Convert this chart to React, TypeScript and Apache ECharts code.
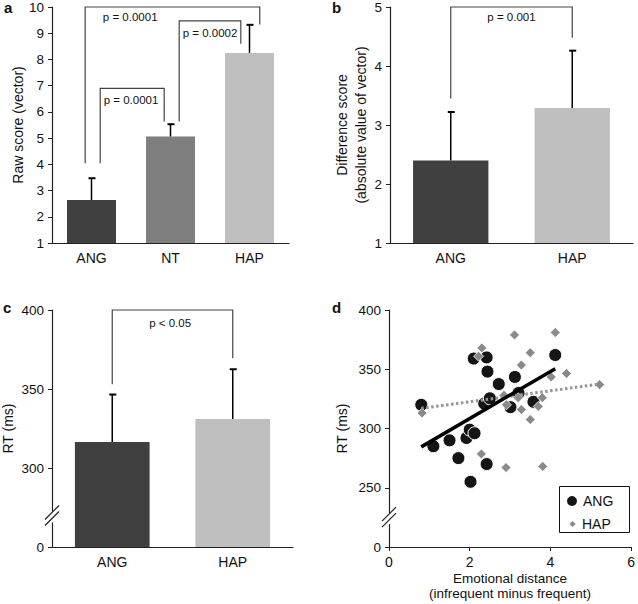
import React, { useEffect, useRef } from 'react';
import * as echarts from 'echarts';

// ---------- Panel a: raw score ----------
const rawCats = ['ANG', 'NT', 'HAP'];
const rawMeans = [2.64, 5.06, 8.25];
const rawErrTop = [3.47, 5.53, 9.32];
// [leftPos, rightPos, leftFoot, rightFoot, top, labelPos, labelY]  (positions in category units)
const rawBrackets = [
  [-0.08, 2.13, 4.04, 9.33, 10, 0.49, 9.62],
  [0.11, 0.92, 4.04, 5.63, 6.9, 0.5, 6.47],
  [1.11, 1.89, 5.63, 8.6, 9.47, 1.5, 9.01],
];
const rawPValues = ['p = 0.0001', 'p = 0.0001', 'p = 0.0002'];
const rawTicks = { min: 1, max: 10, interval: 1 };

// ---------- Panel b: difference score ----------
const diffCats = ['ANG', 'HAP'];
const diffMeans = [2.4, 3.29];
const diffErrTop = [3.22, 4.26];
const diffBrackets = [[0, 1, 3.45, 4.48, 5, 0.5, 4.83]];
const diffPValues = ['p = 0.001'];
const diffTicks = { min: 1, max: 5, interval: 1 };

// ---------- Panel c: RT ----------
const rtCats = ['ANG', 'HAP'];
const rtMeans = [316.5, 331];
const rtErrTop = [346.5, 362.5];
const rtBrackets = [[0, 1, 353, 369.5, 400, 0.48, 391.8]];
const rtPValues = ['p < 0.05'];
const rtTicks = { min: 250, max: 400, interval: 50 }; // 250 drawn as broken "0"
const rtBreakAt = [268.7];

// ---------- Panel d: scatter ----------
const angPoints = [
  [0.8, 320], [1.1, 285], [1.5, 290], [1.72, 275], [2.02, 255], [1.92, 292],
  [2.0, 299], [2.12, 296], [2.1, 359], [2.42, 360], [2.44, 348], [2.42, 270],
  [2.36, 321], [2.5, 325.5], [2.72, 337.5], [3.12, 343.5], [3.01, 318],
  [3.21, 330], [3.58, 322.5], [4.12, 362],
];
const hapPoints = [
  [0.82, 313], [2.22, 361], [2.3, 368], [3.11, 379], [4.12, 381], [3.5, 364],
  [3.28, 353.5], [4.4, 346.4], [4.02, 343.5], [2.85, 328], [2.91, 320],
  [3.2, 326], [3.28, 316], [3.8, 326], [3.7, 318.6], [3.5, 307.5],
  [2.29, 278.5], [2.9, 267], [3.81, 268], [5.22, 337],
];
const angFit = [[0.8, 284.5], [4.12, 350.5]];
const hapFit = [[0.8, 317], [5.22, 337.5]];
const scatterXTicks = { min: 0, max: 6, interval: 2 };
const scatterYTicks = { min: 200, max: 400, interval: 50 }; // 200 drawn as broken "0"
const scatterBreakAt = [223.5];

const barColors: Record<string, string> = { ANG: '#404040', NT: '#7f7f7f', HAP: '#bfbfbf' };
const FONT = "'Liberation Sans', Arial, sans-serif";
const INK = '#111';

const renderError = (params: any, api: any) => {
  const idx = api.value(0);
  const base = api.coord([idx, api.value(1)]);
  const tip = api.coord([idx, api.value(2)]);
  return {
    type: 'group',
    children: [
      { type: 'line', shape: { x1: base[0], y1: base[1], x2: tip[0], y2: tip[1] }, style: { stroke: '#000', lineWidth: 1.5 } },
      { type: 'line', shape: { x1: tip[0] - 3, y1: tip[1], x2: tip[0] + 4, y2: tip[1] }, style: { stroke: '#000', lineWidth: 2 } },
    ],
  };
};

const makeBracket = (labels: string[]) => (params: any, api: any) => {
  const i = params.dataIndex;
  const lp = api.value(2), rp = api.value(3), lf = api.value(4), rf = api.value(5);
  const top = api.value(6), tp = api.value(7), ty = api.value(8);
  const base = api.coord([0, top]);
  const band = api.size([1, 0])[0];
  const px = (pos: number) => base[0] + pos * band;
  const py = (v: number) => api.coord([0, v])[1];
  const xl = px(lp), xr = px(rp), yt = py(top);
  return {
    type: 'group',
    children: [
      {
        type: 'polyline',
        shape: { points: [[xl, py(lf)], [xl, yt], [xr, yt], [xr, py(rf)]] },
        style: { stroke: '#444', lineWidth: 1.2, fill: 'none' },
      },
      {
        type: 'text',
        x: px(tp),
        y: py(ty),
        style: {
          text: labels[i], fontSize: 11.5, fontFamily: FONT, fill: INK,
          align: 'center', verticalAlign: 'middle', textAlign: 'center', textVerticalAlign: 'middle',
        },
      },
    ],
  };
};

const renderBreak = (params: any, api: any) => {
  const x = params.coordSys.x;
  const y = api.coord([0, api.value(1)])[1];
  const st = { stroke: '#222', lineWidth: 1.2 };
  return {
    type: 'group',
    children: [
      { type: 'rect', shape: { x: x - 2, y: y - 6, width: 4, height: 11 }, style: { fill: '#fff' } },
      { type: 'line', shape: { x1: x - 7, y1: y + 2, x2: x + 7, y2: y - 12 }, style: st },
      { type: 'line', shape: { x1: x - 7, y1: y + 8, x2: x + 7, y2: y - 6 }, style: st },
    ],
  };
};

const axisLine = { show: true, lineStyle: { color: '#222', width: 1.2 } };

const catAxis = (gridIndex: number, data: string[]) => ({
  type: 'category', gridIndex, data,
  axisLine, axisTick: { show: false },
  axisLabel: { fontSize: 14, color: INK, margin: 8, fontFamily: FONT },
});

const valAxis = (gridIndex: number, t: any, name: string, nameGap: number, extra: any = {}) => ({
  type: 'value', gridIndex, min: t.min, max: t.max, interval: t.interval,
  axisLine,
  axisTick: { show: true, length: 4, lineStyle: { color: '#222' } },
  splitLine: { show: false },
  axisLabel: { fontSize: 13.5, color: INK, margin: 8, fontFamily: FONT, ...(extra.axisLabel || {}) },
  name, nameLocation: 'middle', nameGap, nameRotate: 90,
  nameTextStyle: { fontSize: 14, color: INK, fontFamily: FONT, ...(extra.nameTextStyle || {}) },
});

const barSeries = (idx: number, cats: string[], means: number[]) => ({
  type: 'bar', xAxisIndex: idx, yAxisIndex: idx, barWidth: '62%', z: 2,
  data: means.map((v, i) => ({ value: v, itemStyle: { color: barColors[cats[i]] } })),
});

const errSeries = (idx: number, means: number[], tops: number[]) => ({
  type: 'custom', xAxisIndex: idx, yAxisIndex: idx, z: 3, clip: false,
  encode: { x: 0, y: 1 },
  renderItem: renderError,
  data: means.map((m, i) => [i, m, tops[i]]),
});

const bracketSeries = (idx: number, brackets: number[][], labels: string[]) => ({
  type: 'custom', xAxisIndex: idx, yAxisIndex: idx, z: 4, clip: false,
  encode: { x: 0, y: 1 },
  renderItem: makeBracket(labels),
  data: brackets.map((b) => [0, b[4], ...b]),
});

const breakSeries = (idx: number, at: number[]) => ({
  type: 'custom', xAxisIndex: idx, yAxisIndex: idx, z: 6, clip: false,
  encode: { x: 0, y: 1 },
  renderItem: renderBreak,
  data: at.map((v) => [0, v]),
});

export default function App() {
  const ref = useRef<HTMLDivElement>(null);
  useEffect(() => {
    if (!ref.current) return;
    const chart = echarts.init(ref.current, undefined, { renderer: 'svg' });
    const option: any = {
      animation: false,
      backgroundColor: '#fff',
      textStyle: { fontFamily: FONT },
      grid: [
        { left: 52, top: 6, width: 237, height: 237 },
        { left: 390, top: 6, width: 243, height: 237 },
        { left: 52, top: 310, width: 241, height: 237 },
        { left: 389, top: 310, width: 244, height: 237 },
      ],
      xAxis: [
        catAxis(0, rawCats),
        catAxis(1, diffCats),
        catAxis(2, rtCats),
        {
          type: 'value', gridIndex: 3, min: scatterXTicks.min, max: scatterXTicks.max, interval: scatterXTicks.interval,
          axisLine, axisTick: { show: true, length: 4, lineStyle: { color: '#222' } },
          splitLine: { show: false },
          axisLabel: { fontSize: 14, color: INK, margin: 8, fontFamily: FONT },
          name: 'Emotional distance\n(infrequent minus frequent)', nameLocation: 'middle', nameGap: 24,
          nameTextStyle: { fontSize: 13.5, color: INK, lineHeight: 15, fontFamily: FONT },
        },
      ],
      yAxis: [
        valAxis(0, rawTicks, 'Raw score (vector)', 27),
        valAxis(1, diffTicks, 'Difference score\n(absolute value of vector)', 18.5, { nameTextStyle: { lineHeight: 19 } }),
        valAxis(2, rtTicks, 'RT (ms)', 37, { axisLabel: { formatter: (v: number) => (v === rtTicks.min ? '0' : String(v)) } }),
        valAxis(3, scatterYTicks, 'RT (ms)', 40, { axisLabel: { formatter: (v: number) => (v === scatterYTicks.min ? '0' : String(v)) } }),
      ],
      legend: [
        {
          data: [{ name: 'ANG', icon: 'circle' }], left: 565, top: 494, itemWidth: 12, itemHeight: 12,
          padding: 0, selectedMode: false, textStyle: { fontSize: 14, color: INK, fontFamily: FONT },
        },
        {
          data: [{ name: 'HAP', icon: 'diamond' }], left: 567, top: 517, itemWidth: 9, itemHeight: 9,
          padding: 0, selectedMode: false, textStyle: { fontSize: 14, color: INK, fontFamily: FONT },
        },
      ],
      graphic: [
        { type: 'text', left: 4, top: 0, style: { text: 'a', font: `bold 15px ${FONT}`, fill: INK } },
        { type: 'text', left: 332, top: 0, style: { text: 'b', font: `bold 15px ${FONT}`, fill: INK } },
        { type: 'text', left: 3, top: 300, style: { text: 'c', font: `bold 15px ${FONT}`, fill: INK } },
        { type: 'text', left: 332, top: 300, style: { text: 'd', font: `bold 15px ${FONT}`, fill: INK } },
        { type: 'rect', shape: { x: 559.5, y: 486.5, width: 70, height: 46 }, style: { fill: 'none', stroke: '#111', lineWidth: 1 } },
      ],
      series: [
        barSeries(0, rawCats, rawMeans),
        errSeries(0, rawMeans, rawErrTop),
        bracketSeries(0, rawBrackets, rawPValues),

        barSeries(1, diffCats, diffMeans),
        errSeries(1, diffMeans, diffErrTop),
        bracketSeries(1, diffBrackets, diffPValues),

        barSeries(2, rtCats, rtMeans),
        errSeries(2, rtMeans, rtErrTop),
        bracketSeries(2, rtBrackets, rtPValues),
        breakSeries(2, rtBreakAt),

        {
          name: 'ANG', type: 'scatter', xAxisIndex: 3, yAxisIndex: 3, z: 2,
          symbol: 'circle', symbolSize: 13,
          itemStyle: { color: '#151515', borderColor: '#fff', borderWidth: 1, opacity: 1 },
          data: angPoints,
        },
        {
          name: 'HAP', type: 'scatter', xAxisIndex: 3, yAxisIndex: 3, z: 3,
          symbol: 'diamond', symbolSize: 10,
          itemStyle: { color: '#8a8a8a', borderColor: '#fff', borderWidth: 0.8, opacity: 1 },
          data: hapPoints,
        },
        {
          name: 'HAP fit', type: 'line', xAxisIndex: 3, yAxisIndex: 3, z: 4,
          symbol: 'none', data: hapFit,
          lineStyle: { color: '#959595', width: 3, type: [2.5, 2.5] },
        },
        {
          name: 'ANG fit', type: 'line', xAxisIndex: 3, yAxisIndex: 3, z: 5,
          symbol: 'none', data: angFit,
          lineStyle: { color: '#000', width: 3.5 },
        },
        breakSeries(3, scatterBreakAt),
      ],
    };
    chart.setOption(option);
    return () => chart.dispose();
  }, []);
  return (
    <div
      ref={ref}
      style={{ position: 'absolute', left: 0, top: 0, width: 638, height: 604, background: '#fff' }}
    />
  );
}
